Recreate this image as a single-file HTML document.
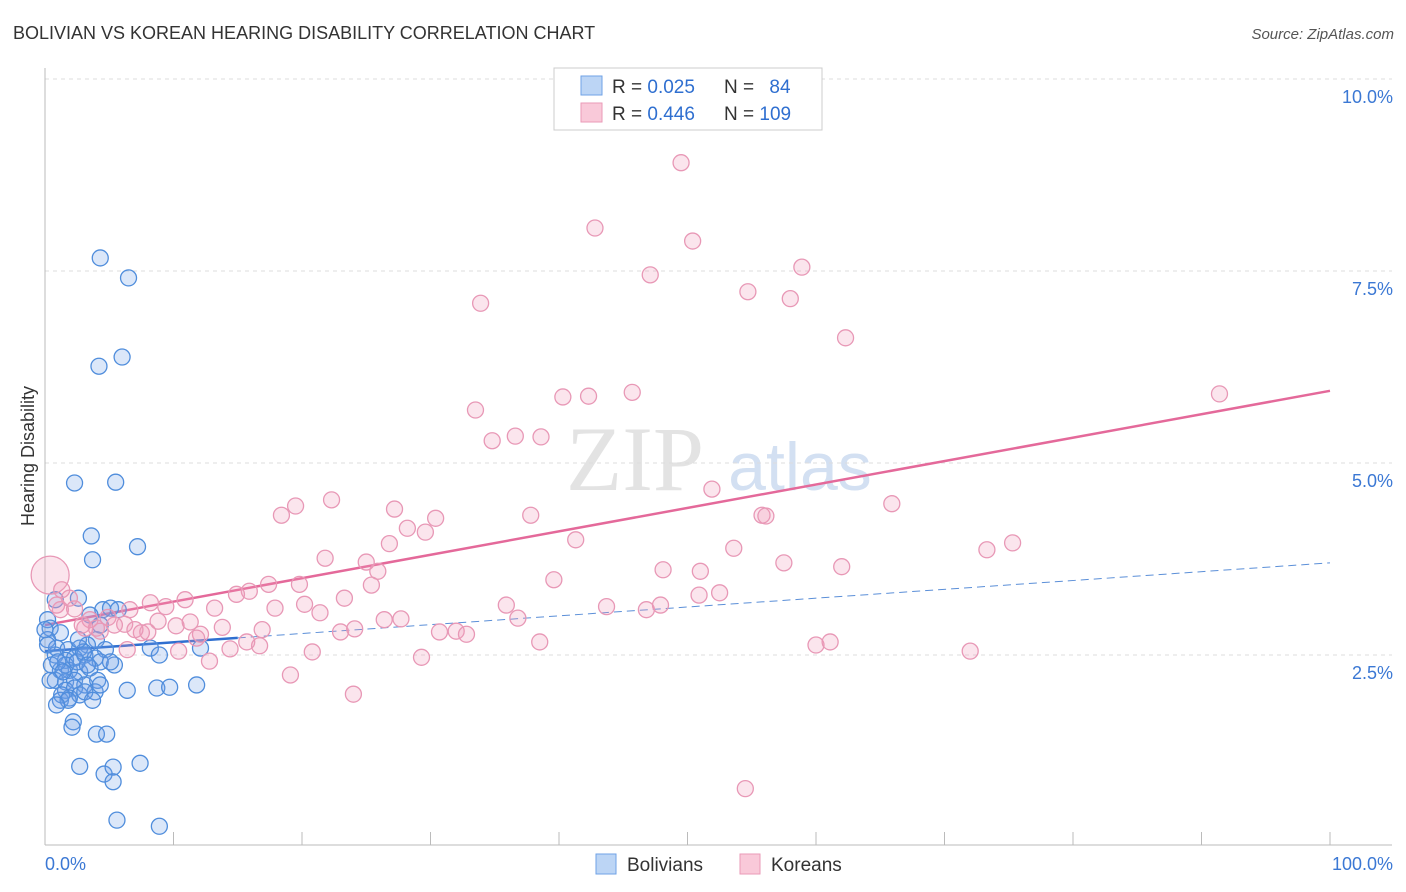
<!DOCTYPE html>
<html><head><meta charset="utf-8">
<style>
body{margin:0;background:#fff;font-family:"Liberation Sans",sans-serif;}
#wrap{position:relative;width:1406px;height:892px;overflow:hidden;}
</style></head>
<body>
<div id="wrap">
<svg id="chart" width="1406" height="892">
<text x="13" y="39" font-size="18" fill="#333">BOLIVIAN VS KOREAN HEARING DISABILITY CORRELATION CHART</text>
<text x="1394" y="39" font-size="15" fill="#555" font-style="italic" text-anchor="end">Source: ZipAtlas.com</text>
<text transform="translate(34,456) rotate(-90)" font-size="18" fill="#333" text-anchor="middle">Hearing Disability</text>
<g>
<text x="635" y="490" font-size="92" font-family="Liberation Serif,serif" fill="#ddd" text-anchor="middle" opacity="0.8">ZIP</text>
<text x="800" y="490" font-size="68" fill="#c9d9ef" text-anchor="middle" opacity="0.8">atlas</text>
</g>
<g id="grid"></g>
<g id="axes"></g>
<g id="trends"></g>
<g id="points"></g>
<g>
<rect x="554" y="68" width="268" height="62" fill="#fff" stroke="#ccc"/>
<rect x="581" y="76" width="21" height="19" fill="#bcd5f5" stroke="#6fa2e6"/>
<rect x="581" y="103" width="21" height="19" fill="#f9c9d9" stroke="#ea9ab7"/>
<text x="612" y="93" font-size="19" fill="#333">R = <tspan fill="#2f6fd0">0.025</tspan></text>
<text x="724" y="93" font-size="19" fill="#333">N = <tspan fill="#2f6fd0" dx="10">84</tspan></text>
<text x="612" y="120" font-size="19" fill="#333">R = <tspan fill="#2f6fd0">0.446</tspan></text>
<text x="724" y="120" font-size="19" fill="#333">N = <tspan fill="#2f6fd0">109</tspan></text>
</g>
<g>
<rect x="596" y="854" width="20" height="20" fill="#bcd5f5" stroke="#6fa2e6"/>
<text x="627" y="871" font-size="19" fill="#333">Bolivians</text>
<rect x="740" y="854" width="20" height="20" fill="#f9c9d9" stroke="#ea9ab7"/>
<text x="771" y="871" font-size="19" fill="#333">Koreans</text>
</g>
</svg>
</div>
<script>
const yTicks=[2.5,5.0,7.5,10.0];
const yTickLabels=["2.5%","5.0%","7.5%","10.0%"];
const xTicks=[0,10,20,30,40,50,60,70,80,90,100];
const xTickLabels=["0.0%","100.0%"];
const blueX=[4.3,6.5,6.0,4.2,2.3,5.5,3.6,3.7,7.2,0.8,2.6,4.5,5.1,3.5,0.2,0.4,1.2,0.2,4.0,3.3,0.9,1.8,2.7,4.7,8.2,8.9,12.1,0.8,1.6,2.3,3.1,3.9,5.4,4.3,1.2,1.9,2.7,3.5,0.8,1.6,2.3,3.1,4.1,1.6,2.3,3.9,6.4,8.7,9.7,11.8,1.2,1.9,2.7,2.2,2.1,4.0,4.8,2.7,7.4,4.6,5.3,5.3,5.6,8.9,0.4,0.5,1.3,3.1,1.6,2.5,5.1,3.0,1.0,1.4,0.0,0.2,3.7,4.3,3.3,1.8,0.9,2.6,5.7,4.3];
const blueY=[7.67,7.41,6.38,6.26,4.74,4.75,4.05,3.74,3.91,3.22,3.24,3.09,3.11,3.02,2.96,2.85,2.79,2.70,2.70,2.63,2.59,2.57,2.59,2.57,2.59,2.50,2.59,2.50,2.43,2.46,2.50,2.46,2.37,2.41,2.30,2.30,2.28,2.33,2.17,2.15,2.17,2.11,2.17,2.04,2.07,2.02,2.04,2.07,2.08,2.11,1.91,1.94,1.98,1.63,1.56,1.47,1.47,1.05,1.09,0.95,1.04,0.85,0.35,0.27,2.17,2.37,1.98,2.02,2.37,2.41,2.41,2.54,2.41,2.28,2.83,2.63,1.91,2.11,2.37,1.91,1.85,2.70,3.09,2.89];
const pinkX=[49.5,42.8,50.4,47.1,58.9,54.7,58.0,33.9,62.3,91.4,45.7,40.3,42.3,33.5,34.8,36.6,38.6,51.9,65.9,22.3,19.5,18.4,27.2,30.4,28.2,29.6,37.8,55.8,56.1,41.3,26.8,53.6,21.8,25.0,25.9,48.1,51.0,57.5,62.0,73.3,75.3,39.6,25.4,19.8,17.4,15.9,14.9,10.9,8.2,9.4,13.2,17.9,20.2,21.4,23.3,35.9,36.8,43.7,46.8,47.9,50.9,52.5,6.6,4.9,2.3,3.5,6.2,8.8,10.2,11.3,13.8,16.9,26.4,27.7,30.7,32.0,32.8,23.0,24.1,7.5,8.0,12.1,11.8,16.7,15.7,14.4,10.4,6.4,20.8,12.8,29.3,38.5,60.0,61.1,72.0,19.1,24.0,54.5,4.3,3.1,5.4,1.2,1.9,2.9,0.4,1.3,7.0,4.0,0.9];
const pinkY=[8.91,8.06,7.89,7.45,7.55,7.23,7.14,7.08,6.63,5.90,5.92,5.86,5.87,5.69,5.29,5.35,5.34,4.66,4.47,4.52,4.44,4.32,4.40,4.28,4.15,4.10,4.32,4.32,4.31,4.00,3.95,3.89,3.76,3.71,3.59,3.61,3.59,3.70,3.65,3.87,3.96,3.48,3.41,3.42,3.42,3.33,3.29,3.22,3.18,3.13,3.11,3.11,3.16,3.05,3.24,3.15,2.98,3.13,3.09,3.15,3.28,3.31,3.09,2.99,3.10,2.96,2.90,2.94,2.88,2.93,2.86,2.83,2.96,2.97,2.80,2.81,2.77,2.80,2.84,2.79,2.80,2.77,2.72,2.62,2.67,2.58,2.55,2.57,2.54,2.42,2.47,2.67,2.63,2.67,2.55,2.24,1.99,0.76,2.81,2.85,2.89,3.09,3.24,2.89,3.54,3.35,2.83,2.85,3.15];
const blueTrend=[2.55,3.70];
const pinkTrend=[2.89,5.94];
const NS="http://www.w3.org/2000/svg";
const X0=45,X1=1330,YB=847,YT=79;
function sx(v){return X0+(X1-X0)*v/100;}
function sy(v){return YB-(YB-YT)*v/10;}
function mk(tag,attrs,parent){const e=document.createElementNS(NS,tag);for(const k in attrs)e.setAttribute(k,attrs[k]);parent.appendChild(e);return e;}
const grid=document.getElementById('grid'),axes=document.getElementById('axes'),trends=document.getElementById('trends'),pts=document.getElementById('points');
yTicks.forEach((t,i)=>{
 const l=mk('line',{x1:X0,x2:1392,y1:sy(t),y2:sy(t),stroke:'#ddd','stroke-dasharray':'4,4'},grid);
 
 
 const tx=mk('text',{x:1393,y:sy(t)+24,'font-size':18,fill:'#3b78d4','text-anchor':'end'},axes);
 tx.textContent=yTickLabels[i];
 
 
});
const ax=mk('line',{x1:X0,x2:X0,y1:68,y2:845,stroke:'#bbb'},axes);


const bx=mk('line',{x1:X0,x2:1392,y1:845,y2:845,stroke:'#bbb'},axes);


xTicks.forEach(t=>{
 const l=mk('line',{x1:sx(t),x2:sx(t),y1:832,y2:845,stroke:'#bbb'},axes);
 
 
});
const xl0=mk('text',{x:45,y:870,'font-size':18,fill:'#3b78d4'},axes);
xl0.textContent=xTickLabels[0];


const xl1=mk('text',{x:1393,y:870,'font-size':18,fill:'#3b78d4','text-anchor':'end'},axes);
xl1.textContent=xTickLabels[1];


function ty(tr,x){return tr[0]+(tr[1]-tr[0])*x/100;}
const bt1=mk('line',{x1:sx(0),y1:sy(ty(blueTrend,0)),x2:sx(15),y2:sy(ty(blueTrend,15)),stroke:'#2f6fd0','stroke-width':2.5},trends);


const bt2=mk('line',{x1:sx(15),y1:sy(ty(blueTrend,15)),x2:sx(100),y2:sy(ty(blueTrend,100)),stroke:'#5b8fd8','stroke-width':1,'stroke-dasharray':'8,5'},trends);


blueX.forEach((x,i)=>{
 const c=mk('circle',{cx:sx(x),cy:sy(blueY[i]),r:8,fill:'rgba(110,160,230,0.25)',stroke:'#4f8ddc','stroke-width':1.3},pts);
 
 
});
pinkX.forEach((x,i)=>{
 const big=(i===104);
 const c=mk('circle',{cx:sx(x),cy:sy(pinkY[i]),r:big?19:8,fill:'rgba(240,150,185,0.25)',stroke:'#e898b6','stroke-width':1.3},pts);
 
 
});
const pt=mk('line',{x1:sx(0),y1:sy(ty(pinkTrend,0)),x2:sx(100),y2:sy(ty(pinkTrend,100)),stroke:'#e4699a','stroke-width':2.5},trends);


</script>
</body></html>
